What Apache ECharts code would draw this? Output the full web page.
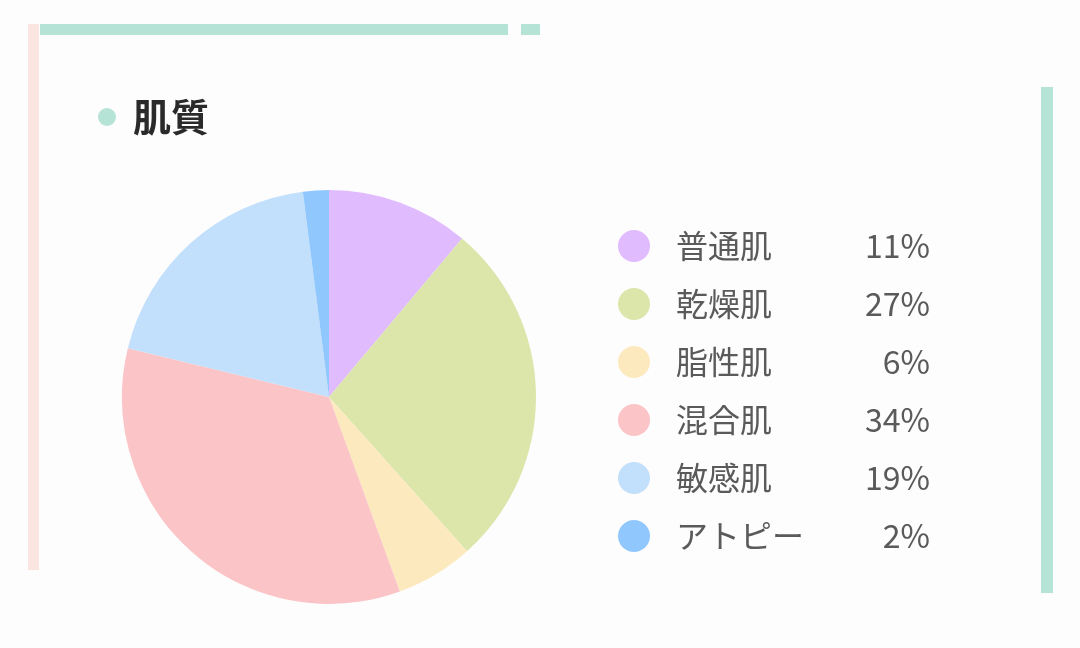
<!DOCTYPE html>
<html>
<head>
<meta charset="utf-8">
<script src="https://cdn.jsdelivr.net/npm/echarts@6/dist/echarts.min.js"></script>
<style>
html,body{margin:0;padding:0;background:#fefdfe;}
#main{width:1080px;height:648px;}
</style>
</head>
<body>
<div id="main"></div>
<script>
const categories = ['普通肌', '乾燥肌', '脂性肌', '混合肌', '敏感肌', 'アトピー'];
const values = [11, 27, 6, 34, 19, 2];
const colors = ['#e0bbfd', '#dce6aa', '#fde9be', '#fbc4c6', '#c2e0fb', '#90c8fd'];
const title = '肌質';

const FONT = '"Noto Sans CJK JP", "Noto Sans", sans-serif';
const chart = echarts.init(document.getElementById('main'));
const pctMap = {};
categories.forEach((c, i) => { pctMap[c] = values[i]; });

chart.setOption({
  backgroundColor: '#fefdfe',
  animation: false,
  color: colors,
  legend: {
    orient: 'vertical',
    left: 613,
    top: 225,
    icon: 'circle',
    itemWidth: 32,
    itemHeight: 32,
    itemGap: 26,
    selectedMode: false,
    data: categories,
    formatter: function (name) {
      return '{n|' + name + '}{p|' + pctMap[name] + '%}';
    },
    textStyle: {
      fontFamily: FONT,
      rich: {
        n: { width: 150, fontSize: 32, color: '#5a5a5a', fontFamily: FONT, padding: [0, 0, 0, 21], lineHeight: 32 },
        p: { width: 104, align: 'right', fontSize: 32, color: '#5a5a5a', fontFamily: FONT, lineHeight: 32 }
      }
    }
  },
  graphic: [
    { type: 'rect', shape: { x: 40, y: 24, width: 468, height: 11 }, style: { fill: '#b5e3d6' } },
    { type: 'rect', shape: { x: 521, y: 24, width: 19, height: 11 }, style: { fill: '#b5e3d6' } },
    { type: 'rect', shape: { x: 28, y: 24, width: 11, height: 546 }, style: { fill: '#fbe5e1' } },
    { type: 'rect', shape: { x: 1041, y: 87, width: 12, height: 506 }, style: { fill: '#b5e3d6' } },
    { type: 'circle', shape: { cx: 107, cy: 117, r: 9 }, style: { fill: '#b5e3d6' } },
    { type: 'text', left: 133, top: 98, style: { text: title, font: 'bold 38px ' + FONT, fill: '#2a2a2a' } }
  ],
  series: [{
    type: 'pie',
    center: [329, 397],
    radius: 207,
    startAngle: 90,
    clockwise: true,
    label: { show: false },
    labelLine: { show: false },
    emphasis: { disabled: true },
    itemStyle: { borderWidth: 0 },
    data: categories.map((c, i) => ({ name: c, value: values[i] }))
  }]
});
</script>
</body>
</html>
